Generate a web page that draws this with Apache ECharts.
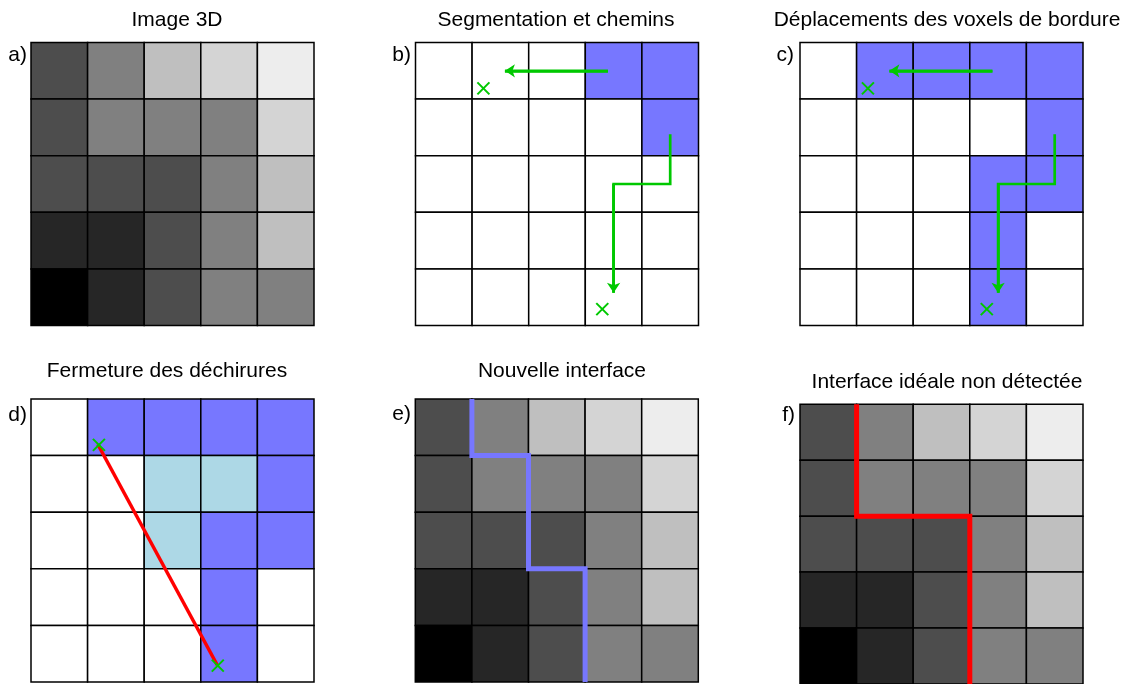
<!DOCTYPE html>
<html>
<head>
<meta charset="utf-8">
<script src="https://cdn.jsdelivr.net/npm/echarts@6/dist/echarts.min.js"></script>
<style>html,body{margin:0;padding:0;background:#fff;}#c{width:1127px;height:684px;}</style>
</head>
<body>
<div id="c"></div>
<script>
// ---- data ----
const titles = ['Image 3D', 'Segmentation et chemins', 'Déplacements des voxels de bordure',
                'Fermeture des déchirures', 'Nouvelle interface', 'Interface idéale non détectée'];
const panelLabels = ['a)', 'b)', 'c)', 'd)', 'e)', 'f)'];
// grey level (0 = black, 1 = white), rows top -> bottom
const grayLevels = [
  [0.30, 0.50, 0.75, 0.83, 0.93],
  [0.30, 0.50, 0.50, 0.50, 0.83],
  [0.30, 0.30, 0.30, 0.50, 0.75],
  [0.15, 0.15, 0.30, 0.50, 0.75],
  [0.00, 0.15, 0.30, 0.50, 0.50]
];
// segmentation masks: 0 = background, 1 = segmented, 2 = closed tear
const segB = [
  [0, 0, 0, 1, 1],
  [0, 0, 0, 0, 1],
  [0, 0, 0, 0, 0],
  [0, 0, 0, 0, 0],
  [0, 0, 0, 0, 0]
];
const segC = [
  [0, 1, 1, 1, 1],
  [0, 0, 0, 0, 1],
  [0, 0, 0, 1, 1],
  [0, 0, 0, 1, 0],
  [0, 0, 0, 1, 0]
];
const segD = [
  [0, 1, 1, 1, 1],
  [0, 0, 2, 2, 1],
  [0, 0, 2, 1, 1],
  [0, 0, 0, 1, 0],
  [0, 0, 0, 1, 0]
];
// paths in cell units (x: column, y: row from top)
const arrowLeft = [[3.40, 0.50], [1.58, 0.50]];
const arrowDown = [[4.50, 1.62], [4.50, 2.50], [3.50, 2.50], [3.50, 4.42]];
const crossPts = [[1.20, 0.81], [3.30, 4.71]];
const tearLine = [[1.18, 0.80], [3.29, 4.70]];
const interfaceE = [[1, 0], [1, 1], [2, 1], [2, 3], [3, 3], [3, 5]];
const interfaceF = [[1, 0], [1, 2], [3, 2], [3, 5]];

// ---- layout / style ----
const grids = [
  {left: 31, top: 42.5, width: 283, height: 283},
  {left: 415.5, top: 42.5, width: 283, height: 283},
  {left: 800, top: 42.5, width: 283, height: 283},
  {left: 31, top: 399, width: 283, height: 283},
  {left: 415.3, top: 399, width: 283, height: 283},
  {left: 800, top: 404.3, width: 283, height: 283}
];
const titlePos = [[177, 20], [556, 20], [947, 20], [167, 371], [562, 371], [947, 382]];
const labelPos = [[27, 55], [411, 55], [794, 55], [27, 415], [411, 414], [795, 415]];
const BLUE = '#7777ff', LIGHT = '#add8e6', GREEN = '#00c800', RED = '#ff0000';
const FONT = '"Liberation Sans", Arial, Helvetica, sans-serif';

function grayColor(v) {
  const g = Math.round(v * 255);
  return 'rgb(' + g + ',' + g + ',' + g + ')';
}
function segColor(v) { return v === 1 ? BLUE : (v === 2 ? LIGHT : '#ffffff'); }

function cellSeries(idx, matrix, colorFn) {
  const data = [];
  const colors = [];
  matrix.forEach((row, r) => row.forEach((v, c) => { data.push([c, r]); colors.push(colorFn(v)); }));
  return {
    type: 'custom', xAxisIndex: idx, yAxisIndex: idx, z: 1, silent: true,
    data: data,
    renderItem: function (params, api) {
      const c = api.value(0), r = api.value(1);
      const p0 = api.coord([c, r]), p1 = api.coord([c + 1, r + 1]);
      return {
        type: 'rect',
        shape: {x: p0[0], y: p0[1], width: p1[0] - p0[0], height: p1[1] - p0[1]},
        style: {fill: colors[params.dataIndex], stroke: '#000', lineWidth: 1.5}
      };
    }
  };
}
function pathSeries(idx, pts, color, width, z) {
  return {
    type: 'line', xAxisIndex: idx, yAxisIndex: idx, data: pts, showSymbol: false, symbol: 'none',
    lineStyle: {color: color, width: width, join: 'miter', cap: 'butt'}, z: z || 3, silent: true, animation: false
  };
}
function arrowSeries(idx, pts) {
  const n = pts.length;
  return [
    pathSeries(idx, pts, GREEN, 2.7, 3),
    {
      type: 'lines', coordinateSystem: 'cartesian2d', xAxisIndex: idx, yAxisIndex: idx, z: 4, silent: true,
      symbol: ['none', 'arrow'], symbolSize: 10,
      lineStyle: {color: GREEN, width: 2.7, opacity: 1},
      data: [{coords: [pts[n - 2], pts[n - 1]]}], animation: false
    }
  ];
}
function crossSeries(idx, pts) {
  return {
    type: 'custom', xAxisIndex: idx, yAxisIndex: idx, z: 5, silent: true, data: pts,
    renderItem: function (params, api) {
      const p = api.coord([api.value(0), api.value(1)]);
      const s = 6;
      return {
        type: 'group', children: [
          {type: 'line', shape: {x1: p[0] - s, y1: p[1] - s, x2: p[0] + s, y2: p[1] + s}, style: {stroke: GREEN, lineWidth: 2}},
          {type: 'line', shape: {x1: p[0] - s, y1: p[1] + s, x2: p[0] + s, y2: p[1] - s}, style: {stroke: GREEN, lineWidth: 2}}
        ]
      };
    }
  };
}

const xAxes = grids.map((g, i) => ({gridIndex: i, type: 'value', min: 0, max: 5, show: false}));
const yAxes = grids.map((g, i) => ({gridIndex: i, type: 'value', min: 0, max: 5, inverse: true, show: false}));

let series = [];
series.push(cellSeries(0, grayLevels, grayColor));
series.push(cellSeries(1, segB, segColor));
series = series.concat(arrowSeries(1, arrowLeft), arrowSeries(1, arrowDown));
series.push(crossSeries(1, crossPts));
series.push(cellSeries(2, segC, segColor));
series = series.concat(arrowSeries(2, arrowLeft), arrowSeries(2, arrowDown));
series.push(crossSeries(2, crossPts));
series.push(cellSeries(3, segD, segColor));
series.push(pathSeries(3, tearLine, RED, 3.5, 3));
series.push(crossSeries(3, crossPts));
series.push(cellSeries(4, grayLevels, grayColor));
series.push(pathSeries(4, interfaceE, BLUE, 5, 3));
series.push(cellSeries(5, grayLevels, grayColor));
series.push(pathSeries(5, interfaceF, RED, 5, 3));

const graphics = [];
titles.forEach((t, i) => graphics.push({
  type: 'text', x: titlePos[i][0], y: titlePos[i][1], silent: true,
  style: {text: t, fill: '#000', font: '21px ' + FONT, textAlign: 'center', textVerticalAlign: 'middle'}
}));
panelLabels.forEach((t, i) => graphics.push({
  type: 'text', x: labelPos[i][0], y: labelPos[i][1], silent: true,
  style: {text: t, fill: '#000', font: '21px ' + FONT, textAlign: 'right', textVerticalAlign: 'middle'}
}));

const chart = echarts.init(document.getElementById('c'), null, {renderer: 'canvas'});
chart.setOption({
  animation: false,
  backgroundColor: '#ffffff',
  grid: grids,
  xAxis: xAxes,
  yAxis: yAxes,
  graphic: graphics,
  series: series
});
</script>
</body>
</html>
